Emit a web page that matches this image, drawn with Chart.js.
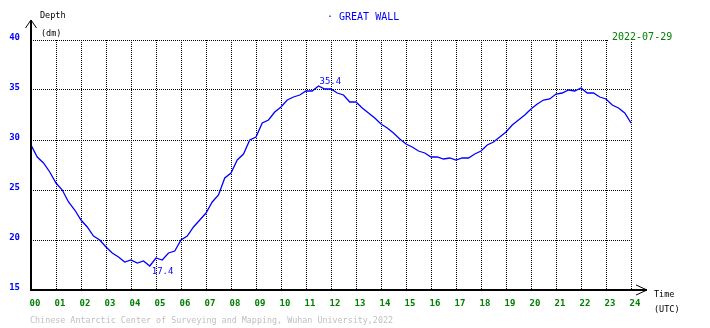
<!DOCTYPE html>
<html>
<head>
<meta charset="utf-8">
<script src="https://cdn.jsdelivr.net/npm/chart.js@4/dist/chart.umd.min.js"></script>
<style>
  html, body { margin: 0; padding: 0; background: #fff; }
  #wrap { width: 710px; height: 328px; }
</style>
</head>
<body>
<div id="wrap"><canvas id="myChart" width="710" height="328"></canvas></div>
<script>
// hours (UTC) and tide depth (dm)
const hours = [0, 0.25, 0.5, 0.75, 1, 1.25, 1.5, 1.75, 2, 2.25, 2.5, 2.75,
  3, 3.25, 3.5, 3.75, 4, 4.25, 4.5, 4.75, 5, 5.25, 5.5, 5.75,
  6, 6.25, 6.5, 6.75, 7, 7.25, 7.5, 7.75, 8, 8.25, 8.5, 8.75,
  9, 9.25, 9.5, 9.75, 10, 10.25, 10.5, 10.75, 11, 11.25, 11.5, 11.75,
  12, 12.25, 12.5, 12.75, 13, 13.25, 13.5, 13.75, 14, 14.25, 14.5, 14.75,
  15, 15.25, 15.5, 15.75, 16, 16.25, 16.5, 16.75, 17, 17.25, 17.5, 17.75,
  18, 18.25, 18.5, 18.75, 19, 19.25, 19.5, 19.75, 20, 20.25, 20.5, 20.75,
  21, 21.25, 21.5, 21.75, 22, 22.25, 22.5, 22.75, 23, 23.25, 23.5, 23.75, 24];
const depth = [29.5, 28.3, 27.7, 26.8, 25.7, 25.0, 23.8, 23.0, 22.0, 21.3, 20.4, 20.0,
  19.3, 18.7, 18.3, 17.8, 18.0, 17.7, 17.9, 17.4, 18.2, 18.0, 18.7, 18.9,
  20.0, 20.4, 21.3, 22.0, 22.7, 23.8, 24.5, 26.2, 26.7, 28.0, 28.6, 30.0,
  30.3, 31.7, 32.0, 32.8, 33.3, 34.0, 34.3, 34.5, 34.9, 34.9, 35.4, 35.1,
  35.1, 34.7, 34.5, 33.8, 33.8, 33.2, 32.7, 32.2, 31.6, 31.2, 30.7, 30.1,
  29.6, 29.3, 28.9, 28.7, 28.3, 28.3, 28.1, 28.2, 28.0, 28.2, 28.2, 28.6,
  28.9, 29.5, 29.8, 30.3, 30.8, 31.5, 32.0, 32.5, 33.1, 33.6, 34.0, 34.1,
  34.6, 34.7, 35.0, 34.9, 35.2, 34.7, 34.7, 34.3, 34.1, 33.5, 33.2, 32.7, 31.7];
const yTicks = [15, 20, 25, 30, 35, 40];

const station = '· GREAT WALL';
const dateText = '2022-07-29';
const footer = 'Chinese Antarctic Center of Surveying and Mapping, Wuhan University,2022';

const mono = '"DejaVu Sans Mono", monospace';
const points = [];
for (let i = 0; i < hours.length; i++) {
  points.push({x: hours[i], y: depth[i]});
}

// axes with arrows, labels and min / max notes
const extras = {
  id: 'extras',
  afterDraw(chart) {
    const ctx = chart.ctx;
    const xs = chart.scales.x, ys = chart.scales.y;
    const x0 = xs.getPixelForValue(0), y0 = ys.getPixelForValue(15);
    const yTop = ys.getPixelForValue(40);
    const xe = xs.getPixelForValue(24) + 16;
    ctx.save();
    ctx.strokeStyle = '#000';
    ctx.lineWidth = 2;
    ctx.beginPath();
    ctx.moveTo(x0, y0 + 1);
    ctx.lineTo(x0, yTop - 20);
    ctx.moveTo(x0 - 1, y0);
    ctx.lineTo(xe, y0);
    ctx.stroke();
    ctx.lineWidth = 1;
    ctx.beginPath();
    ctx.moveTo(x0 - 5.5, yTop - 12);
    ctx.lineTo(x0, yTop - 20);
    ctx.lineTo(x0 + 5.5, yTop - 12);
    ctx.moveTo(xe - 11, y0 - 5);
    ctx.lineTo(xe, y0);
    ctx.lineTo(xe - 11, y0 + 5);
    ctx.stroke();

    ctx.textBaseline = 'middle';
    ctx.textAlign = 'left';
    ctx.fillStyle = '#000';
    ctx.font = '8.5px ' + mono;
    ctx.fillText('Depth', x0 + 9, 16);
    ctx.fillText('(dm)', x0 + 10, 34);
    ctx.fillText('Time', xe + 7, 295);
    ctx.fillText('(UTC)', xe + 7, 310);

    ctx.fillStyle = '#0000ff';
    ctx.font = '10px ' + mono;
    ctx.fillText(station, 327, 17);
    // date sits on a white box over the grid corner
    ctx.fillStyle = '#fff';
    ctx.fillRect(608, 31, 70, 10);
    ctx.fillStyle = '#008000';
    ctx.font = '10px ' + mono;
    ctx.fillText(dateText, 612, 37);
    ctx.fillStyle = '#c0c0c0';
    ctx.font = '8.4px ' + mono;
    ctx.fillText(footer, 30, 321);

    // max and min notes
    let iMax = 0, iMin = 0;
    for (let i = 1; i < depth.length; i++) {
      if (depth[i] > depth[iMax]) iMax = i;
      if (depth[i] < depth[iMin]) iMin = i;
    }
    ctx.fillStyle = '#0000ff';
    ctx.font = '9px ' + mono;
    ctx.textBaseline = 'bottom';
    ctx.fillText(depth[iMax].toFixed(1), xs.getPixelForValue(hours[iMax]) + 1, ys.getPixelForValue(depth[iMax]));
    ctx.textBaseline = 'top';
    ctx.fillText(depth[iMin].toFixed(1), xs.getPixelForValue(hours[iMin]) + 2, ys.getPixelForValue(depth[iMin]) + 1);
    ctx.restore();
  }
};

new Chart(document.getElementById('myChart'), {
  type: 'line',
  data: {
    datasets: [{
      data: points,
      borderColor: '#0000ff',
      borderWidth: 1.3,
      pointRadius: 0,
      tension: 0,
      fill: false
    }]
  },
  options: {
    responsive: false,
    animation: false,
    layout: {padding: {left: 0, top: 40, right: 79, bottom: 0}},
    plugins: {legend: {display: false}, tooltip: {enabled: false}},
    scales: {
      x: {
        type: 'linear',
        min: 0,
        max: 24,
        afterFit(scale) { scale.height = 38; },
        border: {display: false, dash: [1, 1]},
        grid: {color: '#000', lineWidth: 1, drawTicks: false},
        ticks: {
          stepSize: 1,
          padding: 8,
          labelOffset: 4,
          maxRotation: 0,
          autoSkip: false,
          color: '#008000',
          font: {family: mono, size: 9, weight: 'bold'},
          callback: v => String(v).padStart(2, '0')
        }
      },
      y: {
        min: 15,
        max: 40,
        afterFit(scale) { scale.width = 31; },
        afterBuildTicks(scale) { scale.ticks = yTicks.map(v => ({value: v})); },
        border: {display: false, dash: [1, 1]},
        grid: {color: '#000', lineWidth: 1, drawTicks: false},
        ticks: {
          padding: 11,
          labelOffset: -2,
          color: '#0000ff',
          font: {family: mono, size: 9, weight: 'bold'}
        }
      }
    }
  },
  plugins: [extras]
});
</script>
</body>
</html>
